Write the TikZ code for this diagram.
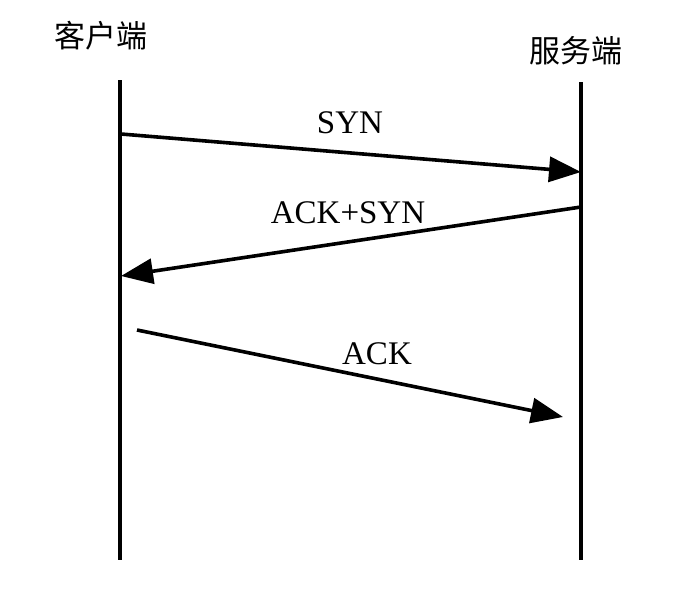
\documentclass[tikz,border=0pt]{standalone}
\usepackage{fontspec}
\setmainfont{Liberation Serif}
\newfontfamily\cjk{Noto Sans CJK SC}
\usetikzlibrary{arrows.meta,positioning}
\tikzset{
  life/.style={line width=4pt},
  msg/.style={line width=3.6pt, -{Triangle[length=32pt, width=25pt]}},
  lbl/.style={inner sep=0pt, font=\fontsize{33}{36}\selectfont},
  party/.style={inner sep=0pt, font=\cjk\fontsize{31}{34}\selectfont}
}

\begin{document}
\begin{tikzpicture}[x=1pt, y=-1pt]
    \useasboundingbox (0,0) rectangle (699,589);
    \node [party] (client) at (101,36) {客户端};
    \node [party] (server) at (576,51) {服务端};
    \coordinate (ctop) at (120,80);
    \coordinate (cbot) at (120,560);
    \coordinate (stop) at (581,82);
    \coordinate (sbot) at (581,560);
    \draw [life] (ctop) -- (cbot);
    \draw [life] (stop) -- (sbot);
    % three messages
    \coordinate (syn1) at (121,134);
    \coordinate (syn2) at (581,172);
    \coordinate (as1) at (581,207);
    \coordinate (as2) at (121,276);
    \coordinate (ack1) at (137,330);
    \coordinate (ack2) at (563,417);
    \draw [msg] (syn1) -- (syn2);
    \draw [msg] (as1) -- (as2);
    \draw [msg] (ack1) -- (ack2);
    \node [lbl] (syn) at (350,123) {SYN};
    \node [lbl] (acksyn) at (348,213) {ACK+SYN};
    \node [lbl] (ack) at (377,354) {ACK};
\end{tikzpicture}
\end{document}
